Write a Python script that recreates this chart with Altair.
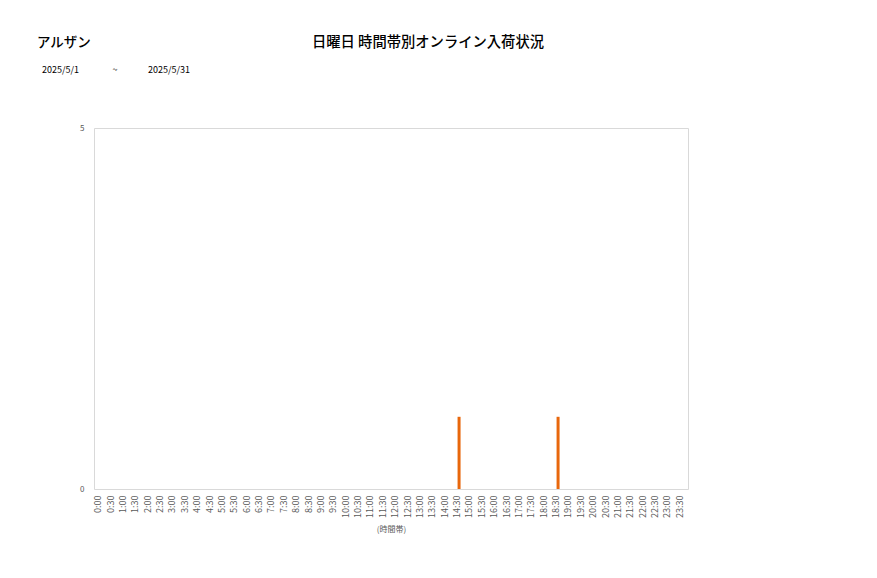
import altair as alt
import pandas as pd

times = [f"{h}:{m:02d}" for h in range(24) for m in (0, 30)]
counts = [0] * 48
counts[times.index("14:30")] = 1
counts[times.index("18:30")] = 1

store_name = ["アルザン"]
chart_title = ["日曜日 時間帯別オンライン入荷状況"]
date_from = ["2025/5/1"]
date_sep = ["~"]
date_to = ["2025/5/31"]

df = pd.DataFrame({"time": times, "count": counts})

FONT = "Noto Sans CJK JP"

bars = alt.Chart(df).mark_bar(size=3, color="#E8670C").encode(
    x=alt.X("time:N", sort=times, title="(時間帯)",
            scale=alt.Scale(paddingInner=0, paddingOuter=0),
            axis=alt.Axis(labelAngle=270, labelFontSize=9, labelColor="#595959",
                          labelFont=FONT, ticks=False, domain=False, labelPadding=6,
                          labelOffset=-2,
                          titleFontSize=8, titleColor="#595959", titleFont=FONT,
                          titleFontWeight="normal", titlePadding=8, labelOverlap=False)),
    y=alt.Y("count:Q", title=None,
            scale=alt.Scale(domain=[0, 5], nice=False),
            axis=alt.Axis(values=[0, 5], ticks=False, domain=False, grid=False,
                          labelFontSize=8, labelColor="#595959", labelFont=FONT,
                          labelPadding=10)),
)

def txt(vals, x, y, size, align="left", weight="normal", color="#000000"):
    return alt.Chart(pd.DataFrame({"t": vals})).mark_text(
        align=align, baseline="middle", fontSize=size, font=FONT,
        fontWeight=weight, color=color
    ).encode(text="t:N", x=alt.value(x), y=alt.value(y))

layers = alt.layer(
    bars,
    txt(store_name, -57, -85, 13.5, weight=500),
    txt(chart_title, 334, -85, 14.3, align="center", weight=500),
    txt(date_from, -52, -58, 9),
    txt(date_sep, 21, -58, 9, align="center"),
    txt(date_to, 54, -58, 9),
).properties(
    width=594, height=361,
    autosize=alt.AutoSizeParams(type="none"),
    padding={"left": 86, "top": 120, "right": 181, "bottom": 81},
).configure_view(stroke="#d9d9d9", strokeWidth=1)

layers.save("out.html", embed_options={"renderer": "svg", "actions": False})
